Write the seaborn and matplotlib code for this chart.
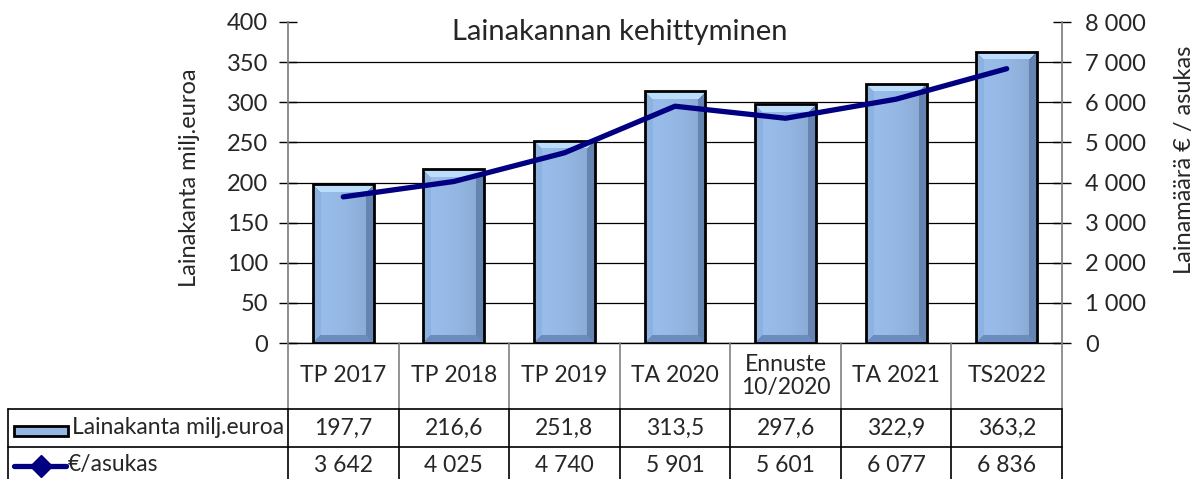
import numpy as np
import pandas as pd
import matplotlib
matplotlib.use("Agg")
import matplotlib.pyplot as plt
import matplotlib.transforms as mtransforms
from matplotlib.patches import Rectangle
from matplotlib.lines import Line2D
from matplotlib.ticker import FuncFormatter, MultipleLocator
import seaborn as sns

# data
categories = ["TP 2017", "TP 2018", "TP 2019", "TA 2020", "Ennuste\n10/2020", "TA 2021", "TS2022"]
lainakanta = [197.7, 216.6, 251.8, 313.5, 297.6, 322.9, 363.2]
per_asukas = [3642, 4025, 4740, 5901, 5601, 6077, 6836]

bar_label = "Lainakanta milj.euroa"
line_label = "€/asukas"
title = "Lainakannan kehittyminen"

df = pd.DataFrame({"kausi": categories, "lainakanta": lainakanta, "asukas": per_asukas})
df["pos"] = np.arange(len(df))

W, H = 1201, 479
BAR_C = "#95B5E5"
NAVY = "#000080"
FS = 17
TFS = 16.5

sns.set_theme(style="white")
plt.rcParams["font.family"] = ["Lato", "DejaVu Sans"]

fig = plt.figure(figsize=(W / 100, H / 100), dpi=100)
ax = fig.add_axes([288 / W, 1 - 343 / H, 774 / W, 321 / H])

sns.barplot(data=df, x="kausi", y="lainakanta", color=BAR_C, saturation=1,
            width=0.55, edgecolor="black", linewidth=2, ax=ax, zorder=2)
ax.set_xlim(-0.5, len(df) - 0.5)
ax.set_ylim(0, 400)


def bevel_image(wpx, hpx, b=8):
    # simple bevelled face: light top, darker right/bottom edges
    face = np.array([0.60, 0.74, 0.92])
    top = np.array([0.74, 0.87, 0.99])
    left = np.array([0.56, 0.70, 0.88])
    right = np.array([0.40, 0.52, 0.70])
    bottom = np.array([0.42, 0.55, 0.74])
    img = np.ones((hpx, wpx, 3)) * face
    prof = 1 - 0.12 * (np.linspace(0, 1, wpx) ** 2)
    img *= prof[None, :, None]
    for r in range(hpx):
        for c in range(wpx):
            dt, dbm, dl, dr = r, hpx - 1 - r, c, wpx - 1 - c
            m = min(dt, dbm, dl, dr)
            if m >= b:
                continue
            if m == dt:
                img[r, c] = top
            elif m == dr:
                img[r, c] = right
            elif m == dbm:
                img[r, c] = bottom
            else:
                img[r, c] = left
    return np.clip(img, 0, 1)


fig.canvas.draw()
for p in ax.patches:
    bb = p.get_window_extent()
    wpx, hpx = max(int(bb.width), 2), max(int(bb.height), 2)
    x0, y0 = p.get_x(), p.get_y()
    x1, y1 = x0 + p.get_width(), y0 + p.get_height()
    im = ax.imshow(bevel_image(wpx, hpx), extent=[x0, x1, y0, y1], aspect="auto",
                   origin="upper", zorder=2.1, interpolation="nearest")
    im.set_clip_path(p)
    p.set_facecolor("none")
    p.set_zorder(2.2)
ax.set_xlim(-0.5, len(df) - 0.5)
ax.set_ylim(0, 400)
ax.set_aspect("auto")

# grid and axes styling
ax.yaxis.set_major_locator(MultipleLocator(50))
ax.grid(axis="y", color="black", linewidth=0.9)
ax.set_axisbelow(True)
ax.set_xticks(df["pos"])
ax.set_xticklabels([])
ax.tick_params(axis="x", length=0)
ax.tick_params(axis="y", direction="inout", length=13, width=1, color="black",
               labelsize=FS, pad=8, left=True)
ax.set_xlabel("")
ax.set_ylabel("")
for s in ["top", "right"]:
    ax.spines[s].set_visible(False)
ax.spines["left"].set_color("#808080")
ax.spines["bottom"].set_color("black")
ax.spines["bottom"].set_linewidth(1)

# line on secondary axis
ax2 = ax.twinx()
sns.lineplot(data=df, x="pos", y="asukas", color=NAVY, linewidth=3.8, ax=ax2,
             zorder=5, solid_capstyle="round", solid_joinstyle="round")
ax2.set_ylim(0, 8000)
ax2.set_xlim(-0.5, len(df) - 0.5)
ax2.yaxis.set_major_locator(MultipleLocator(1000))
ax2.yaxis.set_major_formatter(FuncFormatter(lambda v, _: f"{int(v):,}".replace(",", " ")))
ax2.tick_params(axis="y", direction="inout", length=13, width=1, color="black",
                labelsize=FS, pad=10, right=True)
ax2.set_ylabel("")
ax2.set_xlabel("")
for s in ["top", "left", "bottom"]:
    ax2.spines[s].set_visible(False)
ax2.spines["right"].set_color("#808080")

fig.canvas.draw()
for t in ax.yaxis.get_major_ticks():
    if abs(t.get_loc() - 400) < 1e-6:
        t.gridline.set_visible(False)

# title and axis labels
ax.text(0.428, 0.968, title, transform=ax.transAxes, ha="center", va="center", fontsize=21)
fig.text(190 / W, 1 - 178 / H, bar_label, rotation=90, ha="center", va="center", fontsize=FS)
fig.text(1185 / W, 1 - 160 / H, "Lainamäärä € / asukas", rotation=90, ha="center",
         va="center", fontsize=FS)

# data table below the plot
def fy(ypx):
    return 1 - ypx / H

trans = mtransforms.blended_transform_factory(ax.transData, fig.transFigure)
x_right = ax.get_position().x1
y_cat, y_r1, y_r2 = fy(343), fy(409), fy(447)

for e in np.arange(len(df) + 1) - 0.5:
    fig.add_artist(Line2D([e, e], [y_cat, y_r1], transform=trans, color="#808080", lw=1.2))
    fig.add_artist(Line2D([e, e], [y_r1, 0], transform=trans, color="black", lw=1.2))
for yy in [y_r1, y_r2]:
    fig.add_artist(Line2D([8 / W, x_right], [yy, yy], transform=fig.transFigure,
                          color="black", lw=1.2))
fig.add_artist(Line2D([8 / W, 8 / W], [y_r1, 0], transform=fig.transFigure, color="black", lw=1.2))

for i, row in df.iterrows():
    fig.text(row["pos"], fy(376), row["kausi"], transform=trans, ha="center", va="center",
             fontsize=TFS, linespacing=1.15)
    fig.text(row["pos"], fy(428), f"{row['lainakanta']:.1f}".replace(".", ","), transform=trans,
             ha="center", va="center", fontsize=TFS)
    fig.text(row["pos"], fy(465), f"{int(row['asukas']):,}".replace(",", " "), transform=trans,
             ha="center", va="center", fontsize=TFS)

# legend keys inside the table
fig.add_artist(Rectangle((14 / W, fy(436)), 54 / W, 10 / H, transform=fig.transFigure,
                         facecolor=BAR_C, edgecolor="black", lw=2))
fig.text(72 / W, fy(428), bar_label, ha="left", va="center", fontsize=TFS)
fig.add_artist(Line2D([14 / W, 66 / W], [fy(466), fy(466)], transform=fig.transFigure,
                      color=NAVY, lw=3.8))
fig.add_artist(Line2D([41 / W], [fy(466)], transform=fig.transFigure, marker="D",
                      markersize=11, color=NAVY, markeredgecolor=NAVY))
fig.text(68 / W, fy(465), line_label, ha="left", va="center", fontsize=TFS)

fig.savefig("out.png", dpi=100)
